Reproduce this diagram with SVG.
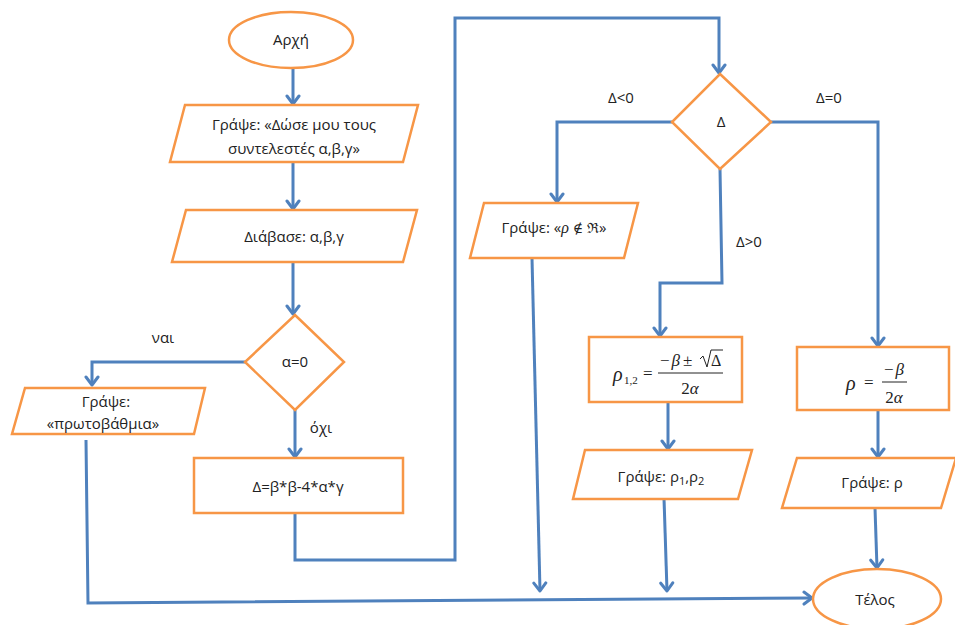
<svg xmlns="http://www.w3.org/2000/svg" width="955" height="625" viewBox="0 0 955 625">
  <defs>
    <marker id="arrow" markerUnits="userSpaceOnUse" markerWidth="16" markerHeight="16" viewBox="-10 -8 12 16" refX="0" refY="0" orient="auto">
      <path d="M-8,-6 L0,0 L-8,6" fill="none" stroke="#4F81BD" stroke-width="3" stroke-linecap="round" stroke-linejoin="round"/>
    </marker>
    <style>
      .shape { fill: #ffffff; stroke: #F79646; stroke-width: 2.5; }
      .conn { fill: none; stroke: #4F81BD; stroke-width: 3; stroke-linejoin: miter; }
      .arr { marker-end: url(#arrow); }
      .t { font-family: "Open Sans", "Liberation Sans", sans-serif; font-size: 15px; fill: #222; text-anchor: middle; }
      .m { font-family: "Liberation Serif", "DejaVu Serif", serif; fill: #222; }
      .mi { font-style: italic; }
    </style>
  </defs>

  <!-- connectors -->
  <g id="connectors">
    <path class="conn arr" d="M293,68 L293,104"/>
    <path class="conn arr" d="M293,162 L293,209"/>
    <path class="conn arr" d="M293,262 L293,314"/>
    <path class="conn arr" d="M245,362 L92,362 L92,385"/>
    <path class="conn arr" d="M295,410 L295,457"/>
    <path class="conn arr" d="M295,513 L295,560 L455,560 L455,18 L719,18 L719,73"/>
    <path class="conn arr" d="M672,122 L557,122 L557,202"/>
    <path class="conn arr" d="M720,169 L722,283 L660,283 L660,336"/>
    <path class="conn arr" d="M771,122 L878,122 L878,346"/>
    <path class="conn arr" d="M668,402 L668,449"/>
    <path class="conn arr" d="M878,410 L878,457"/>
    <path class="conn arr" d="M532,258 L540,591"/>
    <path class="conn arr" d="M664,498 L667,591"/>
    <path class="conn arr" d="M875,508 L877,568"/>
    <path class="conn arr" d="M86,440 L88,603 L812,598"/>
  </g>

  <!-- edge labels -->
  <g id="labels">
    <text class="t" x="163" y="343">ναι</text>
    <text class="t" x="321" y="433">όχι</text>
    <text class="t" x="621" y="103">Δ&lt;0</text>
    <text class="t" x="829" y="103">Δ=0</text>
    <text class="t" x="749" y="247">Δ&gt;0</text>
  </g>

  <g id="start">
    <ellipse class="shape" cx="291" cy="40" rx="62" ry="28"/>
    <text class="t" x="291" y="45">Αρχή</text>
  </g>

  <g id="prompt">
    <polygon class="shape" points="185,105 418,105 403,162 170,162"/>
    <text class="t" x="294" y="130">Γράψε: «Δώσε μου τους</text>
    <text class="t" x="294" y="154">συντελεστές α,β,γ»</text>
  </g>

  <g id="read">
    <polygon class="shape" points="186,210 417,210 403,262 172,262"/>
    <text class="t" x="294" y="242">Διάβασε: α,β,γ</text>
  </g>

  <g id="cond-a">
    <polygon class="shape" points="295,315 344,362 295,410 245,362"/>
    <text class="t" x="295" y="367">α=0</text>
  </g>

  <g id="write-linear">
    <polygon class="shape" points="25,388 205,388 194,434 12,434"/>
    <text class="t" x="106" y="407">Γράψε:</text>
    <text class="t" x="103" y="429">«πρωτοβάθμια»</text>
  </g>

  <g id="discriminant">
    <rect class="shape" x="194" y="458" width="209" height="55"/>
    <text class="t" x="298" y="492">Δ=β*β-4*α*γ</text>
  </g>

  <g id="cond-d">
    <polygon class="shape" points="720,74 771,122 720,169 672,122"/>
    <text class="t" x="721" y="127">Δ</text>
  </g>

  <g id="no-roots">
    <polygon class="shape" points="484,203 638,203 624,258 470,258"/>
    <text class="t" x="554" y="233">Γράψε: «<tspan class="m mi" font-size="16">ρ</tspan> <tspan class="m" font-size="14">∉</tspan> <tspan class="m" font-size="14">ℜ</tspan>»</text>
  </g>

  <g id="two-roots">
    <rect class="shape" x="589" y="337" width="153" height="65"/>
    <text class="m mi" x="613" y="381" font-size="20">ρ</text>
    <text class="m" x="624" y="384" font-size="11">1,2</text>
    <text class="m" x="643" y="379" font-size="17">=</text>
    <line x1="658" y1="373" x2="723" y2="373" stroke="#222" stroke-width="1"/>
    <text class="m" x="660" y="366" font-size="17">−<tspan class="mi" dx="2">β</tspan><tspan dx="3">±</tspan></text>
    <path d="M700,359 L703,356 L707,367 L711,350 L723,350" fill="none" stroke="#222" stroke-width="1"/>
    <text class="m" x="711" y="366" font-size="16">Δ</text>
    <text class="m" x="690" y="394" font-size="17" text-anchor="middle">2<tspan class="mi">α</tspan></text>
  </g>

  <g id="one-root">
    <rect class="shape" x="797" y="347" width="152" height="63"/>
    <text class="m mi" x="846" y="390" font-size="20">ρ</text>
    <text class="m" x="864" y="388" font-size="17">=</text>
    <line x1="882" y1="382" x2="907" y2="382" stroke="#222" stroke-width="1"/>
    <text class="m" x="884" y="375" font-size="17">−<tspan class="mi" dx="2">β</tspan></text>
    <text class="m" x="894" y="403" font-size="17" text-anchor="middle">2<tspan class="mi">α</tspan></text>
  </g>

  <g id="write-roots">
    <polygon class="shape" points="585,450 752,450 738,499 573,499"/>
    <text class="t" x="661" y="482">Γράψε: ρ<tspan font-size="11" dy="3">1</tspan><tspan dy="-3">,ρ</tspan><tspan font-size="11" dy="3">2</tspan></text>
  </g>

  <g id="write-root">
    <polygon class="shape" points="797,458 956,458 941,508 782,508"/>
    <text class="t" x="872" y="488">Γράψε: ρ</text>
  </g>

  <g id="end">
    <ellipse class="shape" cx="877" cy="599" rx="64" ry="30"/>
    <text class="t" x="875" y="605">Τέλος</text>
  </g>
</svg>
